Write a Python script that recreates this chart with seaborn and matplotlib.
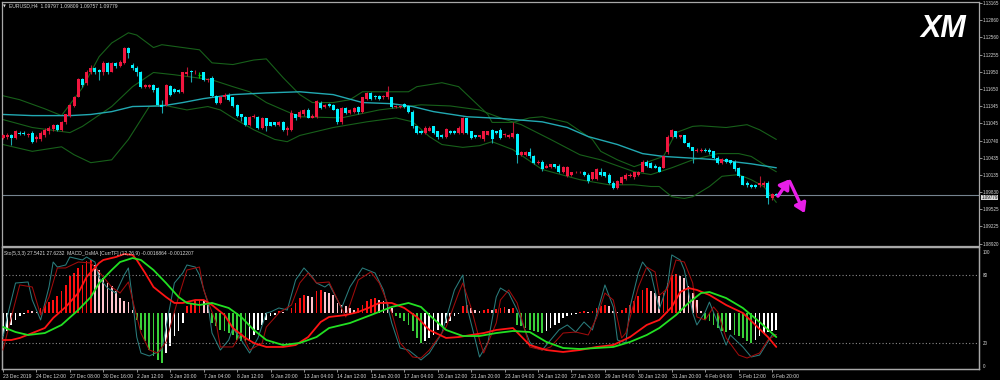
import numpy as np
import pandas as pd
import matplotlib
matplotlib.use("Agg")
import matplotlib.pyplot as plt
import matplotlib.transforms as mtransforms
import seaborn as sns

# ---------------- DATA ----------------
symbol_header = "EURUSD,H4  1.09797 1.09809 1.09757 1.09779"
sub_header = "Sto(5,3,3) 27.5421 27.6232  MACD_OsMA [CurrTF] (12,26,9) -0.0016864 -0.0012207"

opens = [
    1.1079,1.1081,1.1083,1.1079,1.1088,1.1088,1.1084,1.1088,1.1076,1.1077,
    1.1084,1.1090,1.1095,1.1102,1.1093,1.1106,1.1118,1.1135,1.1151,1.1183,
    1.1176,1.1194,1.1202,1.1199,1.1194,1.1211,1.1195,1.1211,1.1206,1.1211,
    1.1238,1.1208,1.1202,1.1195,1.1169,1.1169,1.1172,1.1167,1.1137,1.1137,
    1.1171,1.1165,1.1164,1.1160,1.1192,1.1197,1.1194,1.1190,1.1194,1.1181,
    1.1185,1.1153,1.1141,1.1150,1.1155,1.1150,1.1137,1.1120,1.1116,1.1102,
    1.1116,1.1116,1.1097,1.1113,1.1106,1.1106,1.1102,1.1107,1.1093,1.1093,
    1.1120,1.1116,1.1120,1.1128,1.1114,1.1116,1.1141,1.1134,1.1139,1.1137,
    1.1130,1.1107,1.1132,1.1123,1.1125,1.1134,1.1125,1.1148,1.1158,1.1153,
    1.1153,1.1150,1.1150,1.1150,1.1134,1.1134,1.1139,1.1135,1.1125,1.1099,
    1.1091,1.1088,1.1091,1.1099,1.1090,1.1084,1.1081,1.1091,1.1091,1.1088,
    1.1088,1.1113,1.1090,1.1083,1.1081,1.1076,1.1084,1.1093,1.1090,1.1093,
    1.1083,1.1081,1.1081,1.1086,1.1049,1.1049,1.1053,1.1047,1.1035,1.1037,
    1.1026,1.1028,1.1032,1.1030,1.1018,1.1011,1.1014,1.1018,1.1018,1.1019,
    1.1014,1.1007,1.1007,1.1019,1.1018,1.1014,1.1000,1.0991,1.1000,1.1007,
    1.1011,1.1009,1.1014,1.1019,1.1037,1.1035,1.1030,1.1028,1.1026,1.1053,
    1.1081,1.1090,1.1081,1.1083,1.1070,1.1062,1.1055,1.1055,1.1058,1.1058,
    1.1055,1.1044,1.1035,1.1042,1.1039,1.1037,1.1026,1.1011,1.1000,1.0996,
    1.0996,1.0995,1.0995,1.1000,1.0972,1.09797]
highs = [
    1.1086,1.1088,1.1086,1.1093,1.1091,1.1090,1.1088,1.1091,1.1084,1.1091,
    1.1097,1.1099,1.1104,1.1104,1.1109,1.1121,1.1139,1.1153,1.1185,1.1185,
    1.1199,1.1208,1.1204,1.1201,1.1215,1.1213,1.1213,1.1213,1.1216,1.1239,
    1.1239,1.1211,1.1206,1.1197,1.1174,1.1174,1.1174,1.1169,1.1146,1.1174,
    1.1172,1.1167,1.1165,1.1195,1.1204,1.1199,1.1199,1.1195,1.1195,1.1185,
    1.1187,1.1155,1.1153,1.1157,1.1157,1.1151,1.1139,1.1121,1.1118,1.1118,
    1.1120,1.1118,1.1116,1.1114,1.1107,1.1107,1.1109,1.1109,1.1099,1.1127,
    1.1121,1.1127,1.1130,1.1132,1.1120,1.1146,1.1143,1.1139,1.1141,1.1139,
    1.1132,1.1134,1.1134,1.1130,1.1134,1.1135,1.1151,1.1160,1.1160,1.1155,
    1.1155,1.1155,1.1171,1.1151,1.1137,1.1137,1.1141,1.1137,1.1127,1.1100,
    1.1093,1.1099,1.1099,1.1100,1.1091,1.1086,1.1097,1.1093,1.1093,1.1099,
    1.1116,1.1114,1.1091,1.1084,1.1084,1.1091,1.1091,1.1095,1.1091,1.1097,
    1.1088,1.1086,1.1106,1.1088,1.1055,1.1055,1.1060,1.1049,1.1039,1.1039,
    1.1032,1.1033,1.1033,1.1032,1.1030,1.1030,1.1019,1.1021,1.1021,1.1021,
    1.1016,1.1019,1.1025,1.1026,1.1019,1.1016,1.1002,1.1005,1.1011,1.1016,
    1.1016,1.1019,1.1021,1.1039,1.1039,1.1037,1.1032,1.1030,1.1047,1.1083,
    1.1095,1.1091,1.1084,1.1084,1.1072,1.1063,1.1060,1.1060,1.1060,1.1060,
    1.1056,1.1046,1.1044,1.1044,1.1040,1.1039,1.1028,1.1012,1.1002,1.0998,
    1.0998,1.1012,1.1002,1.1002,1.0981,1.09809]
lows = [
    1.1076,1.1077,1.1067,1.1076,1.1083,1.1084,1.1081,1.1070,1.1072,1.1074,
    1.1081,1.1086,1.1091,1.1091,1.1091,1.1104,1.1116,1.1134,1.1150,1.1169,
    1.1172,1.1192,1.1192,1.1181,1.1190,1.1192,1.1194,1.1202,1.1204,1.1209,
    1.1220,1.1199,1.1188,1.1167,1.1167,1.1167,1.1160,1.1135,1.1123,1.1135,
    1.1153,1.1158,1.1158,1.1158,1.1188,1.1178,1.1192,1.1185,1.1179,1.1178,
    1.1151,1.1139,1.1139,1.1148,1.1144,1.1134,1.1116,1.1109,1.1100,1.1100,
    1.1114,1.1095,1.1095,1.1090,1.1099,1.1100,1.1100,1.1091,1.1083,1.1091,
    1.1111,1.1114,1.1118,1.1113,1.1113,1.1114,1.1130,1.1132,1.1134,1.1127,
    1.1104,1.1104,1.1121,1.1121,1.1123,1.1121,1.1123,1.1146,1.1146,1.1148,
    1.1146,1.1148,1.1148,1.1132,1.1132,1.1132,1.1132,1.1123,1.1097,1.1086,
    1.1086,1.1086,1.1090,1.1086,1.1076,1.1079,1.1079,1.1086,1.1086,1.1086,
    1.1086,1.1086,1.1077,1.1079,1.1079,1.1074,1.1083,1.1070,1.1086,1.1077,
    1.1081,1.1079,1.1079,1.1035,1.1047,1.1047,1.1044,1.1033,1.1033,1.1021,
    1.1025,1.1026,1.1026,1.1016,1.1016,1.1009,1.1012,1.1016,1.1016,1.1012,
    1.1000,1.1005,1.1005,1.1012,1.1009,1.0998,1.0989,1.0989,1.0998,1.1005,
    1.1009,1.1007,1.1012,1.1018,1.1028,1.1025,1.1025,1.1018,1.1025,1.1051,
    1.1079,1.1079,1.1079,1.1069,1.1060,1.1035,1.1053,1.1053,1.1053,1.1051,
    1.1042,1.1033,1.1033,1.1035,1.1033,1.1021,1.1009,1.0995,1.0993,1.0991,
    1.0991,1.0993,1.0993,1.0963,1.0970,1.09757]
closes = [
    1.1083,1.1084,1.1079,1.1090,1.1086,1.1086,1.1086,1.1072,1.1081,1.1088,
    1.1093,1.1097,1.1102,1.1093,1.1107,1.1120,1.1137,1.1151,1.1183,1.1172,
    1.1194,1.1202,1.1194,1.1194,1.1211,1.1195,1.1211,1.1206,1.1213,1.1238,
    1.1229,1.1202,1.1194,1.1169,1.1172,1.1172,1.1164,1.1137,1.1134,1.1172,
    1.1155,1.1160,1.1160,1.1194,1.1195,1.1194,1.1195,1.1190,1.1181,1.1183,
    1.1153,1.1141,1.1151,1.1155,1.1146,1.1135,1.1118,1.1116,1.1102,1.1116,
    1.1118,1.1097,1.1114,1.1100,1.1100,1.1102,1.1107,1.1093,1.1097,1.1123,
    1.1114,1.1125,1.1128,1.1114,1.1118,1.1143,1.1132,1.1137,1.1135,1.1128,
    1.1107,1.1132,1.1123,1.1128,1.1132,1.1125,1.1150,1.1158,1.1148,1.1150,
    1.1148,1.1153,1.1160,1.1134,1.1135,1.1135,1.1134,1.1125,1.1099,1.1088,
    1.1088,1.1097,1.1097,1.1088,1.1081,1.1081,1.1095,1.1088,1.1088,1.1097,
    1.1114,1.1088,1.1079,1.1081,1.1083,1.1090,1.1090,1.1077,1.1088,1.1079,
    1.1086,1.1084,1.1088,1.1049,1.1053,1.1053,1.1046,1.1035,1.1037,1.1023,
    1.1030,1.1032,1.1028,1.1018,1.1028,1.1028,1.1018,1.1019,1.1019,1.1014,
    1.1002,1.1018,1.1023,1.1014,1.1011,1.1000,1.0991,1.1003,1.1009,1.1014,
    1.1014,1.1018,1.1019,1.1037,1.1030,1.1026,1.1026,1.1019,1.1046,1.1081,
    1.1093,1.1081,1.1083,1.1070,1.1062,1.1055,1.1058,1.1058,1.1055,1.1053,
    1.1044,1.1035,1.1042,1.1037,1.1035,1.1023,1.1011,1.0996,1.0995,1.0993,
    1.0993,1.1000,1.1000,1.0972,1.0979,1.09779]

# Bollinger bands and slow moving average (knots: bar index, price)
bb_up_i = [0,4,10,14,19,23,26,30,32,36,38,47,50,55,60,63,67,71,74,79,83,86,94,97,99,105,109,116,117,122,126,129,135,141,143,147,151,158,161,165,167,173,178,181,185]
bb_up_p = [1.1153,1.1146,1.1130,1.1118,1.1167,1.1222,1.1246,1.1264,1.1260,1.1238,1.1243,1.1234,1.1211,1.1208,1.1216,1.1218,1.1185,1.1155,1.1141,1.1141,1.1146,1.1160,1.1160,1.1160,1.1169,1.1176,1.1169,1.1120,1.1106,1.1106,1.1114,1.1116,1.1106,1.1076,1.1055,1.1040,1.1028,1.1046,1.1088,1.1099,1.1100,1.1097,1.1102,1.1093,1.1076]
bb_mid_i = [0,7,16,19,26,31,36,41,50,55,59,63,68,71,81,90,100,107,114,119,124,131,138,143,151,155,160,165,171,176,179,182,185]
bb_mid_p = [1.1111,1.1097,1.1088,1.1099,1.1134,1.1169,1.1194,1.1190,1.1181,1.1169,1.1160,1.1141,1.1125,1.1116,1.1114,1.1128,1.1137,1.1135,1.1128,1.1114,1.1102,1.1076,1.1049,1.1040,1.1019,1.1014,1.1026,1.1040,1.1051,1.1051,1.1046,1.1032,1.1019]
bb_lo_i = [0,7,14,17,21,26,30,35,38,44,49,52,55,60,65,68,71,79,87,94,98,102,105,110,114,117,122,129,138,145,151,155,157,160,163,165,169,172,176,179,182,185]
bb_lo_p = [1.1067,1.1055,1.1063,1.1049,1.1035,1.1040,1.1076,1.1134,1.1137,1.1128,1.1134,1.1128,1.1114,1.1093,1.1076,1.1072,1.1083,1.1097,1.1107,1.1114,1.1107,1.1081,1.1067,1.1062,1.1065,1.1072,1.1058,1.1023,1.1005,1.0996,1.0996,1.0993,1.0993,1.0975,1.0972,1.0975,1.0993,1.1011,1.1014,1.1005,1.0993,1.0965]
ma_i = [0,7,16,21,26,31,38,43,48,55,63,71,79,86,93,98,103,111,119,129,135,140,147,153,158,167,171,179,185]
ma_p = [1.1120,1.1118,1.1118,1.1120,1.1125,1.1134,1.1135,1.1141,1.1148,1.1155,1.1158,1.1160,1.1155,1.1141,1.1139,1.1134,1.1125,1.1116,1.1113,1.1107,1.1097,1.1081,1.1067,1.1051,1.1046,1.1042,1.1040,1.1033,1.1026]

# Stochastic (5,3,3): main and signal (knots)
sto_k_i = [0,1,3,6,7,9,11,12,13,15,16,19,20,22,23,25,27,29,30,31,32,33,35,38,39,41,43,44,46,47,49,50,52,54,55,57,59,61,63,64,66,68,70,72,74,75,77,78,81,83,86,89,91,93,95,97,100,102,105,108,110,111,113,114,116,118,119,121,123,126,127,129,133,135,137,139,141,144,146,147,149,150,152,153,155,157,159,160,162,163,165,166,168,169,171,173,174,177,179,181,184,185]
sto_k_v = [25.4,43.0,72.8,73.7,57.9,40.4,69.3,91.2,86.8,88.6,95.6,93.0,95.6,91.2,77.2,68.4,64.0,79.8,86.0,57.9,25.4,11.4,8.8,14.0,34.2,72.8,81.6,88.6,86.8,79.8,55.3,28.9,14.0,22.8,33.3,22.8,11.4,24.6,46.5,47.4,50.9,49.1,75.4,86.0,78.1,72.8,69.3,72.0,50.9,69.3,86.0,81.6,66.7,37.7,15.8,14.0,5.3,11.4,28.9,66.7,79.8,51.8,22.8,7.9,20.2,60.5,68.4,64.0,49.1,21.1,16.7,14.0,31.6,36.0,29.8,38.6,31.6,71.1,51.8,22.8,20.2,51.8,81.6,91.2,81.6,50.0,71.1,97.4,93.0,84.2,46.5,36.0,47.4,56.1,37.7,18.4,27.2,16.7,7.9,9.6,27.2,27.5421]
sto_d_i = [0,2,4,7,9,11,13,15,18,21,23,26,28,30,31,33,35,37,39,42,44,47,48,51,52,55,57,59,62,63,66,69,71,73,75,78,82,85,88,90,93,95,98,100,102,106,109,110,112,114,115,118,119,121,123,126,129,131,134,137,140,142,144,146,148,149,152,154,156,157,159,161,163,165,166,168,170,171,173,176,178,181,183,185]
sto_d_v = [14.0,43.0,71.1,69.3,44.7,60.5,86.0,86.0,91.2,90.4,82.5,69.3,64.0,73.7,57.9,28.9,14.0,11.4,21.1,60.5,84.2,86.8,66.7,37.7,16.7,16.7,28.9,14.0,20.2,34.2,46.5,53.5,72.8,81.6,72.8,73.7,43.0,75.4,82.5,72.8,46.5,20.2,7.9,7.0,14.0,34.2,64.0,72.8,50.9,22.8,11.4,37.7,57.9,66.7,55.3,16.7,14.0,16.7,28.9,29.8,27.2,42.1,64.0,57.9,24.6,28.9,69.3,86.8,82.5,62.0,68.0,93.0,91.2,72.8,43.0,40.4,51.8,47.4,24.6,9.6,7.0,11.4,22.8,27.6232]

# smooth red / green oscillator lines (knots, 0-100 scale)
red_i = [0,2,4,7,10,12,15,18,20,23,24,27,29,31,32,34,36,39,41,43,46,48,50,53,55,58,60,63,67,70,73,76,78,82,85,88,90,93,96,99,102,106,109,112,115,118,122,126,130,134,138,142,146,150,154,157,160,162,164,166,169,173,177,180,183,185]
red_v = [22.8,22.8,24.6,28.9,33.3,42.1,51.8,64.0,78.1,90.4,93.0,95.6,98.2,97.4,93.0,81.6,69.3,60.5,55.3,55.3,57.9,57.9,53.5,44.7,33.3,24.6,20.2,16.7,16.7,18.4,25.4,38.6,43.0,44.7,47.4,51.8,55.3,55.3,50.9,43.0,31.6,24.6,25.4,27.2,28.9,31.6,33.3,18.4,14.0,12.3,14.0,16.7,18.4,25.4,36.0,40.4,51.8,64.9,68.4,66.7,62.3,53.5,46.5,36.0,25.4,16.7]
green_i = [0,3,6,10,14,18,21,23,26,28,31,33,36,39,42,44,47,50,54,57,60,63,67,71,75,78,83,88,93,97,100,102,106,110,114,118,122,126,130,134,138,142,146,150,154,157,161,164,167,169,173,177,181,185]
green_v = [34.2,29.8,27.2,28.9,36.0,49.1,60.5,72.8,84.2,91.2,94.7,93.0,84.2,72.8,60.5,55.3,53.5,55.3,50.9,43.0,31.6,22.8,18.4,20.2,25.4,33.3,37.7,44.7,51.8,55.3,51.8,44.7,31.6,26.3,26.3,28.9,30.7,29.8,21.1,15.8,14.9,15.8,16.7,21.1,27.2,33.3,44.7,55.3,64.0,64.9,59.6,50.9,38.6,25.4]

# MACD OsMA histogram (one value per bar)
osma = [
    -0.0023,-0.0018,-0.0012,-0.0007,-0.0003,-0.0001,0.0003,0.0002,0.0001,0.0005,
    0.0008,0.0011,0.0013,0.0017,0.0022,0.0028,0.0037,0.0040,0.0045,0.0048,
    0.0052,0.0053,0.0048,0.0043,0.0035,0.0030,0.0027,0.0022,0.0015,0.0012,
    0.0011,0.0003,-0.0007,-0.0017,-0.0028,-0.0037,-0.0043,-0.0047,-0.0050,-0.0040,
    -0.0033,-0.0023,-0.0018,-0.0010,0.0007,0.0010,0.0012,0.0013,0.0012,0.0008,
    -0.0010,-0.0013,-0.0017,-0.0018,-0.0020,-0.0022,-0.0027,-0.0028,-0.0029,-0.0027,
    -0.0022,-0.0017,-0.0012,-0.0007,-0.0003,-0.0002,0.0002,0.0001,0.00005,0.0005,
    0.0010,0.0015,0.0018,0.0017,0.0016,0.0022,0.0023,0.0021,0.0020,0.0018,
    0.0010,0.0008,0.0007,0.0005,0.0003,0.0005,0.0008,0.0012,0.0014,0.0015,
    0.0013,0.0012,0.0010,0.0005,-0.0003,-0.0005,-0.0008,-0.0012,-0.0018,-0.0025,
    -0.0030,-0.0028,-0.0025,-0.0022,-0.0017,-0.0013,-0.0010,-0.0008,-0.0003,-0.0001,
    0.0007,0.0008,0.0005,0.0003,0.0002,0.0003,0.0004,0.0003,0.0004,0.0005,
    0.0006,0.0004,0.0005,-0.0012,-0.0013,-0.0015,-0.0017,-0.0018,-0.0019,-0.0020,
    -0.0018,-0.0015,-0.0012,-0.0010,-0.0005,-0.0003,-0.0002,-0.0001,0.0001,0.0002,
    0.0001,0.0002,0.0005,0.0007,0.0008,0.0007,0.0002,0.0001,0.0003,0.0005,
    0.0008,0.0012,0.0017,0.0023,0.0025,0.0022,0.0020,0.0017,0.0020,0.0030,
    0.0038,0.0039,0.0037,0.0035,0.0027,0.0020,0.0013,0.0002,-0.0007,-0.0008,
    -0.0012,-0.0015,-0.0018,-0.0019,-0.0017,-0.0022,-0.0023,-0.0025,-0.0028,-0.0030,
    -0.0027,-0.0023,-0.0020,-0.0019,-0.0018,-0.0016864]

date_labels = ["23 Dec 2019","24 Dec 12:00","27 Dec 08:00","30 Dec 16:00","2 Jan 12:00",
               "3 Jan 20:00","7 Jan 04:00","8 Jan 12:00","9 Jan 20:00","13 Jan 04:00",
               "14 Jan 12:00","15 Jan 20:00","17 Jan 04:00","20 Jan 12:00","21 Jan 20:00",
               "23 Jan 04:00","24 Jan 12:00","27 Jan 20:00","29 Jan 04:00","30 Jan 12:00",
               "31 Jan 20:00","4 Feb 04:00","5 Feb 12:00","6 Feb 20:00"]
date_label_bars = list(range(0, 185, 8))
price_ticks = [1.13165,1.12860,1.12560,1.12255,1.11950,1.11650,1.11345,1.11045,
               1.10740,1.10435,1.10135,1.09830,1.09525,1.09225,1.08920]
osc_ticks = [100, 80, 20, 0]
osc_levels = [80, 20]
bid_price = 1.09779
# forecast arrows (bar index, price)
arrow_start_i = [185.4, 188.2]
arrow_start_p = [1.0976, 1.1002]
arrow_end_i = [188.2, 191.8]
arrow_end_p = [1.1006, 1.0946]

# ---------------- STYLE ----------------
sns.set_theme(style="dark", rc={"axes.facecolor": "black", "figure.facecolor": "black",
                                "axes.grid": False})
plt.rcParams['font.family'] = ['Liberation Sans', 'DejaVu Sans']

W, H = 1000, 380
fig = plt.figure(figsize=(10, 3.8), dpi=100)
fig.patch.set_facecolor('black')

def box(x0, y0, x1, y1):
    return [x0 / W, 1 - y1 / H, (x1 - x0) / W, (y1 - y0) / H]

ax1 = fig.add_axes(box(2, 2, 979, 246))
ax2 = fig.add_axes(box(2, 247, 979, 369), sharex=ax1)
ax3 = ax2.twinx()

SPINE = '#a8a8a8'
TXT = '#d8d8d8'
FS = 3.6
FSR = 3.25
for a in (ax1, ax2, ax3):
    a.set_facecolor('black')
    for s in a.spines.values():
        s.set_color(SPINE)
        s.set_linewidth(0.9)
    a.grid(False)
ax3.patch.set_visible(False)

# ---------------- MAIN PRICE PANEL ----------------
idx = np.arange(len(opens))
o, h, l, c = map(np.asarray, (opens, highs, lows, closes))
bull, bear, doji = c > o, c < o, c == o
BULL, BEAR, DOJI = '#f0163f', '#00f2ff', '#00c800'

ax1.vlines(idx[bull], l[bull], h[bull], color='#b81632', lw=0.8, zorder=3)
ax1.vlines(idx[bear], l[bear], h[bear], color='#1aa8b0', lw=0.8, zorder=3)
ax1.vlines(idx[doji], l[doji], h[doji], color=DOJI, lw=0.8, zorder=3)
ax1.bar(idx[bull], (c - o)[bull], bottom=o[bull], width=0.72, color=BULL, lw=0, zorder=4)
ax1.bar(idx[bear], (o - c)[bear], bottom=c[bear], width=0.72, color=BEAR, lw=0, zorder=4)
ax1.hlines(o[doji], idx[doji] - 0.36, idx[doji] + 0.36, color=DOJI, lw=0.9, zorder=4)

BB = '#17601a'
for xi, yp in ((bb_up_i, bb_up_p), (bb_mid_i, bb_mid_p), (bb_lo_i, bb_lo_p)):
    sns.lineplot(x=np.asarray(xi, float), y=np.asarray(yp), ax=ax1, color=BB,
                 linewidth=0.8, errorbar=None, legend=False, zorder=2)
sns.lineplot(x=np.asarray(ma_i, float), y=np.asarray(ma_p), ax=ax1, color='#22a9b2',
             linewidth=1.0, errorbar=None, legend=False, zorder=2)

ax1.axhline(bid_price, color='#75838f', lw=0.8, zorder=1)

for si, sp, ei, ep in zip(arrow_start_i, arrow_start_p, arrow_end_i, arrow_end_p):
    ax1.annotate('', xy=(ei, ep), xytext=(si, sp),
                 arrowprops=dict(arrowstyle='-|>,head_length=0.7,head_width=0.45',
                                 color='#e81ee8', lw=2.4, shrinkA=0, shrinkB=0,
                                 mutation_scale=8), zorder=6)

x_left = -1 / 4.18
x_right = (979 - 3) / 4.18
ax1.set_xlim(x_left, x_right)
ax1.set_ylim(1.13218 - 0.0001763 * 246, 1.13218 - 0.0001763 * 2)
ax1.yaxis.tick_right()
ax1.set_yticks(price_ticks)
ax1.set_yticklabels([f"{p:.5f}" for p in price_ticks])
ax1.tick_params(axis='y', direction='out', length=2.2, width=0.6, color=SPINE,
                labelcolor=TXT, labelsize=FSR, pad=0.6, right=True, left=False)
ax1.tick_params(axis='x', bottom=False, labelbottom=False)
ax1.set_xlabel(''); ax1.set_ylabel('')

trans = mtransforms.blended_transform_factory(ax1.transAxes, ax1.transData)
ax1.text(1.0 + 2.5 / 977, bid_price - 0.00047, f"{bid_price:.5f}", transform=trans, ha='left',
         va='center', fontsize=FSR, color='#101010', zorder=10, clip_on=False,
         bbox=dict(boxstyle='square,pad=0.05', fc='#d8d8d8', ec='none', lw=0))

# ---------------- OSCILLATOR PANEL ----------------
osma_a = np.asarray(osma)
prev = np.r_[osma_a[0], osma_a[:-1]]
hist_cols = np.where(osma_a >= 0,
                     np.where(osma_a >= prev, '#ff1010', '#ffc4cc'),
                     np.where(osma_a < prev, '#3ad03a', '#ffffff'))
ax2.bar(idx, osma_a, width=0.42, color=hist_cols, lw=0, zorder=2)
ax2.set_ylim(-0.00557, 0.00663)
ax2.set_yticks([])
ax2.set_ylabel('')

for lv in osc_levels:
    ax3.axhline(lv, color='#8a8a8a', lw=0.8, ls=(0, (1, 2)), zorder=1)
sns.lineplot(x=np.asarray(sto_k_i, float), y=np.asarray(sto_k_v), ax=ax3, color='#2a7c7c',
             linewidth=0.75, errorbar=None, legend=False, zorder=3)
sns.lineplot(x=np.asarray(sto_d_i, float), y=np.asarray(sto_d_v), ax=ax3, color='#a00c0c',
             linewidth=0.75, errorbar=None, legend=False, zorder=3)
sns.lineplot(x=np.asarray(red_i, float), y=np.asarray(red_v), ax=ax3, color='#ff1414',
             linewidth=1.3, errorbar=None, legend=False, zorder=4)
sns.lineplot(x=np.asarray(green_i, float), y=np.asarray(green_v), ax=ax3, color='#22e022',
             linewidth=1.3, errorbar=None, legend=False, zorder=4)
ax3.set_ylim((366 - 369) / 1.14, (366 - 247) / 1.14)
ax3.set_yticks(osc_ticks)
ax3.set_yticklabels([str(t) for t in osc_ticks])
ax3.tick_params(axis='y', direction='out', length=0, labelcolor=TXT, labelsize=FSR, pad=2.5)
ax3.set_ylabel('')

ax2.set_xticks(date_label_bars)
ax2.set_xticklabels(date_labels, ha='left')
ax2.tick_params(axis='x', direction='out', length=2.5, width=0.6, color=SPINE,
                labelcolor=TXT, labelsize=FS, pad=1.0, bottom=True)
ax2.set_xlim(x_left, x_right)
ax2.set_xlabel('')

# ---------------- TEXTS ----------------
fig.text(4.5 / W, 1 - 6 / H, '\u25BC', fontsize=2.6, color=TXT, ha='center', va='center',
         family=['DejaVu Sans'])
fig.text(9 / W, 1 - 6 / H, symbol_header, fontsize=FS, color=TXT, ha='left', va='center')
fig.text(4 / W, 1 - 253.5 / H, sub_header, fontsize=FS, color=TXT, ha='left', va='center')
fig.text(943 / W, 1 - 29 / H, 'XM', fontsize=22, fontweight='bold', style='italic',
         color='white', ha='center', va='center')

fig.savefig('out.png', dpi=100, facecolor='black')
